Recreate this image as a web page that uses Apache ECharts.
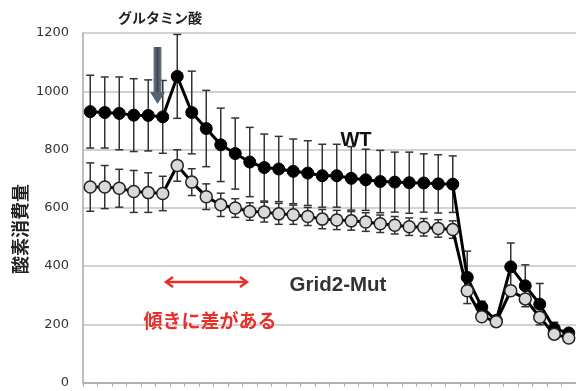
<!DOCTYPE html>
<html><head><meta charset="utf-8">
<script src="https://cdn.jsdelivr.net/npm/echarts@6/dist/echarts.min.js"></script>
<style>html,body{margin:0;padding:0;background:#fff}#c{width:576px;height:391px}</style>
</head><body><div id="c"></div>
<script>
const categories = ['1','2','3','4','5','6','7','8','9','10','11','12','13','14','15','16','17',
  '18','19','20','21','22','23','24','25','26','27','28','29','30','31','32','33','34'];
const wtMean = [930, 927, 924, 918, 917, 912, 1051, 927, 872, 816, 786, 757, 738, 733, 725, 719, 710,
  710, 701, 696, 690, 688, 686, 685, 682, 681, 361, 259, 213, 397, 332, 269, 185, 170];
const wtErr = [125, 122, 125, 125, 122, 125, 144, 142, 131, 126, 122, 119, 115, 112, 111, 111, 108,
  108, 109, 105, 107, 103, 105, 100, 100, 97, 90, 20, 15, 82, 72, 71, 22, 10];
const mutMean = [671, 671, 667, 656, 652, 649, 745, 688, 638, 610, 599, 587, 585, 579, 576, 570, 561,
  558, 555, 551, 545, 540, 535, 533, 529, 525, 315, 226, 209, 315, 287, 224, 166, 153];
const mutErr = [83, 74, 65, 72, 68, 59, 54, 46, 44, 40, 32, 30, 34, 36, 33, 31, 33,
  33, 32, 32, 30, 30, 30, 30, 30, 30, 15, 12, 10, 15, 15, 12, 8, 8];
const yMin = 0, yMax = 1200, yStep = 200;
const titleText = 'グルタミン酸';
const yName = '酸素消費量';
const wtLabel = 'WT';
const mutLabel = 'Grid2-Mut';
const noteText = '傾きに差がある';

function errData(mean, err) {
  return mean.map((m, i) => [i, m - err[i], m + err[i]]);
}
function errRender(params, api) {
  const x = api.value(0);
  const pLo = api.coord([x, api.value(1)]);
  const pHi = api.coord([x, api.value(2)]);
  const w = 4;
  const style = { stroke: '#333', lineWidth: 1.5, fill: null };
  return { type: 'group', children: [
    { type: 'line', shape: { x1: pHi[0], y1: pHi[1], x2: pLo[0], y2: pLo[1] }, style: style },
    { type: 'line', shape: { x1: pHi[0] - w, y1: pHi[1], x2: pHi[0] + w, y2: pHi[1] }, style: style },
    { type: 'line', shape: { x1: pLo[0] - w, y1: pLo[1], x2: pLo[0] + w, y2: pLo[1] }, style: style }
  ]};
}

const chart = echarts.init(document.getElementById('c'), null, { renderer: 'canvas' });
const red = '#e6302a';
chart.setOption({
  animation: false,
  backgroundColor: '#fff',
  grid: { left: 83, right: 0, top: 33, bottom: 8.5 },
  xAxis: {
    type: 'category', data: categories, boundaryGap: true,
    axisLine: { lineStyle: { color: '#a8a8a8', width: 1.5 } },
    axisTick: { show: true, interval: 0, length: 4, inside: false, lineStyle: { color: '#a8a8a8', width: 1 } },
    axisLabel: { show: false },
    splitLine: { show: false }
  },
  yAxis: {
    type: 'value', min: yMin, max: yMax, interval: yStep,
    axisLine: { show: true, lineStyle: { color: '#a8a8a8', width: 1.5 } },
    axisTick: { show: false },
    axisLabel: { color: '#333', fontSize: 13, fontFamily: 'DejaVu Sans', margin: 14, formatter: v => String(v) },
    splitLine: { lineStyle: { color: '#c4c4c4', width: 1.5 } }
  },
  series: [
    { type: 'custom', name: 'wtErr', renderItem: errRender, data: errData(wtMean, wtErr), z: 1 },
    { type: 'line', name: 'WT', data: wtMean, symbol: 'circle', symbolSize: 12, z: 2,
      showSymbol: true, showAllSymbol: true,
      lineStyle: { color: '#000', width: 3 },
      itemStyle: { color: '#000', borderColor: '#000', borderWidth: 1 } },
    { type: 'custom', name: 'mutErr', renderItem: errRender, data: errData(mutMean, mutErr), z: 3 },
    { type: 'line', name: 'Grid2-Mut', data: mutMean, symbol: 'circle', symbolSize: 12, z: 4,
      showSymbol: true, showAllSymbol: true,
      lineStyle: { color: '#000', width: 3 },
      itemStyle: { color: '#d9d9d9', borderColor: '#222', borderWidth: 1.5 } }
  ],
  graphic: [
    { type: 'text', left: 118, top: 11, z: 10,
      style: { text: titleText, font: 'bold 14px "Noto Sans CJK JP"', fill: '#222' } },
    { type: 'rect', shape: { x: 153.5, y: 47, width: 8, height: 47 }, z: 10,
      style: { fill: new echarts.graphic.LinearGradient(0, 0, 1, 0, [
        { offset: 0, color: '#6f7d8c' }, { offset: 0.5, color: '#3f4852' }, { offset: 1, color: '#6f7d8c' }]) } },
    { type: 'polygon', shape: { points: [[150, 92], [165, 92], [157.5, 104]] }, z: 10,
      style: { fill: '#56626f' } },
    { type: 'text', x: 356, y: 140, z: 10,
      style: { text: wtLabel, font: 'bold 20px "Liberation Sans"', fill: '#111', align: 'center', verticalAlign: 'middle' } },
    { type: 'text', x: 338, y: 285, z: 10,
      style: { text: mutLabel, font: 'bold 20.5px "Liberation Sans"', fill: '#333', align: 'center', verticalAlign: 'middle' } },
    { type: 'line', shape: { x1: 167, y1: 282, x2: 246, y2: 282 }, z: 10,
      style: { stroke: red, lineWidth: 2.5 } },
    { type: 'polyline', shape: { points: [[173, 277], [166, 282], [173, 287]] }, z: 10,
      style: { stroke: red, lineWidth: 2.5, fill: null } },
    { type: 'polyline', shape: { points: [[240, 277], [247, 282], [240, 287]] }, z: 10,
      style: { stroke: red, lineWidth: 2.5, fill: null } },
    { type: 'text', x: 210, y: 321, z: 10,
      style: { text: noteText, font: 'bold 19px "Noto Sans CJK JP"', fill: red, align: 'center', verticalAlign: 'middle' } },
    { type: 'text', x: 20, y: 229, rotation: Math.PI / 2, z: 10,
      style: { text: yName, font: 'bold 18px "Noto Sans CJK JP"', fill: '#222', align: 'center', verticalAlign: 'middle' } }
  ]
});
</script>
</body></html>
